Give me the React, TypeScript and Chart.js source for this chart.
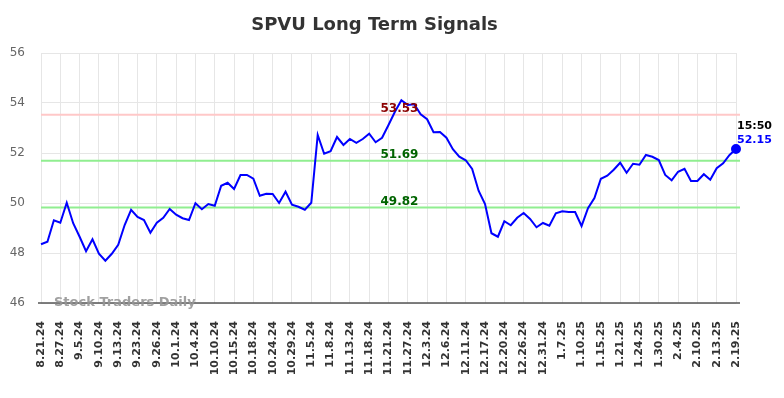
import React, { useEffect, useRef } from "react";
import { Chart, registerables } from "chart.js";

Chart.register(...registerables);

const title = "SPVU Long Term Signals";
const watermark = "Stock Traders Daily";

// x-axis tick labels (one every 3 data points)
const tickLabels = [
  "8.21.24", "8.27.24", "9.5.24", "9.10.24", "9.13.24", "9.23.24", "9.26.24",
  "10.1.24", "10.4.24", "10.10.24", "10.15.24", "10.18.24", "10.24.24", "10.29.24",
  "11.5.24", "11.8.24", "11.13.24", "11.18.24", "11.21.24", "11.27.24",
  "12.3.24", "12.6.24", "12.11.24", "12.17.24", "12.20.24", "12.26.24", "12.31.24",
  "1.7.25", "1.10.25", "1.15.25", "1.21.25", "1.24.25", "1.30.25",
  "2.4.25", "2.10.25", "2.13.25", "2.19.25",
];
const pointsPerTick = 3;

// closing prices
const prices = [
  48.35, 48.45, 49.31, 49.21, 50.01, 49.19, 48.65, 48.07, 48.55, 47.97,
  47.69, 47.97, 48.33, 49.12, 49.73, 49.44, 49.32, 48.81, 49.21, 49.41,
  49.76, 49.53, 49.39, 49.32, 49.99, 49.75, 49.96, 49.89, 50.69, 50.81,
  50.56, 51.12, 51.12, 50.97, 50.29, 50.37, 50.36, 50.0, 50.45, 49.93,
  49.85, 49.73, 50.01, 52.72, 51.97, 52.07, 52.64, 52.32, 52.56, 52.41,
  52.56, 52.77, 52.43, 52.61, 53.12, 53.65, 54.11, 53.92, 53.95, 53.55,
  53.35, 52.83, 52.84, 52.61, 52.15, 51.85, 51.71, 51.36, 50.49, 49.96,
  48.79, 48.65, 49.27, 49.11, 49.41, 49.6, 49.36, 49.03, 49.2, 49.09,
  49.59, 49.67, 49.64, 49.64, 49.08, 49.79, 50.2, 50.97, 51.09, 51.33,
  51.61, 51.21, 51.57, 51.53, 51.92, 51.85, 51.72, 51.12, 50.91, 51.25,
  51.37, 50.88, 50.88, 51.15, 50.93, 51.39, 51.59, 51.92, 52.16,
];
const lastLabelValue = "52.15";
const lastTime = "15:50";

const levelLines = [
  { value: 53.53, label: "53.53", line: "rgba(255,200,200,1)", text: "#8b0000" },
  { value: 51.69, label: "51.69", line: "rgba(144,238,144,1)", text: "#006400" },
  { value: 49.82, label: "49.82", line: "rgba(144,238,144,1)", text: "#006400" },
];

const yMin = 46;
const yMax = 56;
const yStep = 2;

const overlayPlugin = {
  id: "overlay",
  beforeDatasetsDraw(chart: any) {
    const { ctx, chartArea, scales } = chart;
    ctx.save();
    for (const l of levelLines) {
      const y = scales.y.getPixelForValue(l.value);
      ctx.strokeStyle = l.line;
      ctx.lineWidth = 2;
      ctx.beginPath();
      ctx.moveTo(chartArea.left, y);
      ctx.lineTo(chartArea.right + 4, y);
      ctx.stroke();
    }
    // bottom axis line
    const yb = scales.y.getPixelForValue(yMin);
    ctx.strokeStyle = "#555";
    ctx.lineWidth = 1.5;
    ctx.beginPath();
    ctx.moveTo(chartArea.left - 3, yb);
    ctx.lineTo(chartArea.right + 4, yb);
    ctx.stroke();
    // watermark
    ctx.font = "bold 13px 'DejaVu Sans'";
    ctx.fillStyle = "rgba(150,150,150,0.9)";
    ctx.textAlign = "left";
    ctx.textBaseline = "alphabetic";
    ctx.fillText(watermark, chartArea.left + 13, yb + 3);
    ctx.restore();
  },
  afterDraw(chart: any) {
    const { ctx, chartArea, scales } = chart;
    ctx.save();
    // title
    ctx.font = "bold 18px 'DejaVu Sans'";
    ctx.fillStyle = "#333";
    ctx.textAlign = "center";
    ctx.textBaseline = "middle";
    ctx.fillText(title, (chartArea.left + chartArea.right) / 2 - 14, 25);
    // level labels
    const lx = scales.x.getPixelForValue(55.7);
    ctx.font = "bold 12px 'DejaVu Sans'";
    ctx.textBaseline = "alphabetic";
    for (const l of levelLines) {
      const y = scales.y.getPixelForValue(l.value);
      ctx.fillStyle = l.text;
      ctx.fillText(l.label, lx, y - 3);
    }
    // last point label
    const li = prices.length - 1;
    const px = scales.x.getPixelForValue(li);
    const py = scales.y.getPixelForValue(prices[li]);
    ctx.textAlign = "left";
    ctx.font = "bold 11px 'DejaVu Sans'";
    ctx.fillStyle = "#000";
    ctx.fillText(lastTime, px + 1, py - 20);
    ctx.fillStyle = "#0000ff";
    ctx.fillText(lastLabelValue, px + 1, py - 6);
    ctx.restore();
  },
};

export default function App() {
  const canvasRef = useRef<HTMLCanvasElement | null>(null);

  useEffect(() => {
    document.body.style.margin = "0";
    const canvas = canvasRef.current;
    if (!canvas) return;
    const data = prices.map((v, i) => ({ x: i, y: v }));
    const chart = new Chart(canvas, {
      type: "line",
      data: {
        datasets: [
          {
            data,
            borderColor: "#0000ff",
            backgroundColor: "#0000ff",
            borderWidth: 2,
            tension: 0,
            clip: false,
            pointRadius: (c: any) => (c.dataIndex === prices.length - 1 ? 4 : 0),
            pointHoverRadius: 0,
          },
        ],
      },
      options: {
        animation: false,
        responsive: true,
        maintainAspectRatio: false,
        layout: { padding: { top: 53, right: 48, left: 0, bottom: 0 } },
        plugins: {
          legend: { display: false },
          tooltip: { enabled: false },
          title: { display: false },
        },
        scales: {
          x: {
            type: "linear",
            min: 0,
            max: prices.length - 1,
            grid: { color: "#e6e6e6", lineWidth: 1, drawTicks: false },
            border: { display: false },
            afterFit: (s: any) => {
              s.height = 95;
            },
            ticks: {
              stepSize: pointsPerTick,
              autoSkip: false,
              minRotation: 90,
              maxRotation: 90,
              padding: 18,
              color: "#333",
              font: { family: "'DejaVu Sans'", size: 11, weight: "bold" },
              callback: (v: any) => tickLabels[Math.round(Number(v) / pointsPerTick)] ?? "",
            },
          },
          y: {
            min: yMin,
            max: yMax,
            grid: { color: "#e6e6e6", lineWidth: 1, drawTicks: false },
            border: { display: false },
            afterFit: (s: any) => {
              s.width = 41;
            },
            ticks: {
              stepSize: yStep,
              padding: 16,
              color: "#666",
              font: { family: "'DejaVu Sans'", size: 12 },
            },
          },
        },
      },
      plugins: [overlayPlugin],
    } as any);
    return () => chart.destroy();
  }, []);

  return (
    <div style={{ width: 784, height: 398, position: "relative" }}>
      <canvas ref={canvasRef} />
    </div>
  );
}
